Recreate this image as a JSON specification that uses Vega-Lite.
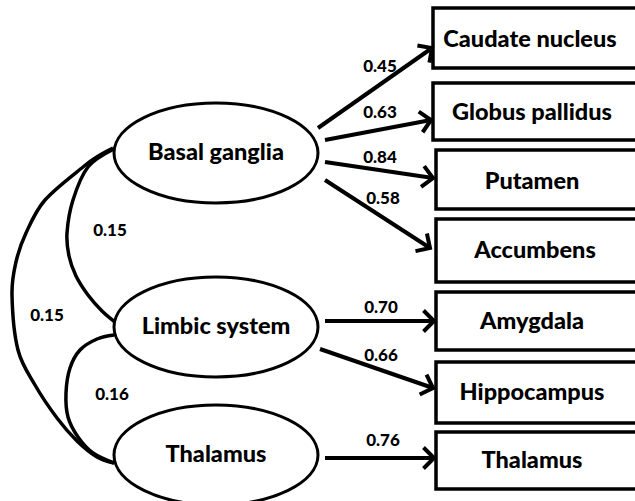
{
  "$schema": "https://vega.github.io/schema/vega-lite/v6.json",
  "width": 635,
  "height": 501,
  "padding": 0,
  "autosize": {"type": "none"},
  "background": "white",
  "config": {"view": {"stroke": null}},
  "datasets": {
    "curves": [
      {"pair": "BG-TH", "i": 1, "x": 113, "y": 148},
      {"pair": "BG-TH", "i": 2, "x": 100, "y": 155},
      {"pair": "BG-TH", "i": 3, "x": 83, "y": 167},
      {"pair": "BG-TH", "i": 4, "x": 45, "y": 200},
      {"pair": "BG-TH", "i": 5, "x": 26, "y": 233},
      {"pair": "BG-TH", "i": 6, "x": 16, "y": 262},
      {"pair": "BG-TH", "i": 7, "x": 12, "y": 295},
      {"pair": "BG-TH", "i": 8, "x": 18, "y": 350},
      {"pair": "BG-TH", "i": 9, "x": 35, "y": 385},
      {"pair": "BG-TH", "i": 10, "x": 57, "y": 418},
      {"pair": "BG-TH", "i": 11, "x": 77, "y": 441},
      {"pair": "BG-TH", "i": 12, "x": 97, "y": 457},
      {"pair": "BG-TH", "i": 13, "x": 114, "y": 463},
      {"pair": "BG-LS", "i": 1, "x": 114, "y": 149},
      {"pair": "BG-LS", "i": 2, "x": 88, "y": 167},
      {"pair": "BG-LS", "i": 3, "x": 73, "y": 200},
      {"pair": "BG-LS", "i": 4, "x": 67, "y": 233},
      {"pair": "BG-LS", "i": 5, "x": 69, "y": 256},
      {"pair": "BG-LS", "i": 6, "x": 76, "y": 276},
      {"pair": "BG-LS", "i": 7, "x": 88, "y": 295},
      {"pair": "BG-LS", "i": 8, "x": 102, "y": 311},
      {"pair": "BG-LS", "i": 9, "x": 115, "y": 322},
      {"pair": "LS-TH", "i": 1, "x": 114, "y": 335},
      {"pair": "LS-TH", "i": 2, "x": 97, "y": 339},
      {"pair": "LS-TH", "i": 3, "x": 80, "y": 350},
      {"pair": "LS-TH", "i": 4, "x": 70, "y": 368},
      {"pair": "LS-TH", "i": 5, "x": 66, "y": 393},
      {"pair": "LS-TH", "i": 6, "x": 68, "y": 417},
      {"pair": "LS-TH", "i": 7, "x": 78, "y": 437},
      {"pair": "LS-TH", "i": 8, "x": 93, "y": 453},
      {"pair": "LS-TH", "i": 9, "x": 114, "y": 463}
    ],
    "arrows": [
      {"coef": "0.45", "x1": 318, "y1": 128, "x2": 432, "y2": 48, "lx": 380, "ly": 67},
      {"coef": "0.63", "x1": 325, "y1": 140, "x2": 431, "y2": 120, "lx": 380, "ly": 113},
      {"coef": "0.84", "x1": 325, "y1": 162, "x2": 433, "y2": 178, "lx": 380, "ly": 158},
      {"coef": "0.58", "x1": 325, "y1": 180, "x2": 430, "y2": 248, "lx": 383, "ly": 199},
      {"coef": "0.70", "x1": 325, "y1": 321, "x2": 434, "y2": 321, "lx": 381, "ly": 308},
      {"coef": "0.66", "x1": 320, "y1": 349, "x2": 433, "y2": 388, "lx": 381, "ly": 356},
      {"coef": "0.76", "x1": 325, "y1": 458, "x2": 434, "y2": 458, "lx": 383, "ly": 441}
    ],
    "boxes": [
      {"name": "Caudate nucleus", "x1": 433, "x2": 645, "y1": 8, "y2": 68, "lx": 530, "ly": 40},
      {"name": "Globus pallidus", "x1": 433, "x2": 645, "y1": 83, "y2": 140, "lx": 532, "ly": 113},
      {"name": "Putamen", "x1": 436, "x2": 645, "y1": 150, "y2": 209, "lx": 532, "ly": 182},
      {"name": "Accumbens", "x1": 436, "x2": 645, "y1": 219, "y2": 282, "lx": 535, "ly": 251},
      {"name": "Amygdala", "x1": 436, "x2": 645, "y1": 292, "y2": 350, "lx": 532, "ly": 322},
      {"name": "Hippocampus", "x1": 436, "x2": 645, "y1": 362, "y2": 423, "lx": 532, "ly": 393},
      {"name": "Thalamus", "x1": 436, "x2": 645, "y1": 432, "y2": 489, "lx": 532, "ly": 461}
    ],
    "latent": [
      {"name": "Basal ganglia", "x": 216, "y": 153},
      {"name": "Limbic system", "x": 216, "y": 327},
      {"name": "Thalamus", "x": 216, "y": 455}
    ],
    "covs": [
      {"coef": "0.15", "x": 110, "y": 231},
      {"coef": "0.15", "x": 47, "y": 316},
      {"coef": "0.16", "x": 112, "y": 395}
    ]
  },
  "layer": [
    {
      "data": {"name": "curves"},
      "mark": {"type": "line", "interpolate": "cardinal", "stroke": "black", "strokeWidth": 3.5, "clip": true},
      "encoding": {
        "x": {"field": "x", "type": "quantitative", "scale": {"domain": [0, 635], "nice": false, "zero": false}, "axis": null},
        "y": {"field": "y", "type": "quantitative", "scale": {"domain": [0, 501], "nice": false, "zero": false, "reverse": true}, "axis": null},
        "detail": {"field": "pair"},
        "order": {"field": "i", "type": "quantitative"}
      }
    },
    {
      "data": {"name": "boxes"},
      "mark": {"type": "rect", "fill": "white", "stroke": "black", "strokeWidth": 3.5, "clip": true},
      "encoding": {
        "x": {"field": "x1", "type": "quantitative"},
        "x2": {"field": "x2"},
        "y": {"field": "y1", "type": "quantitative"},
        "y2": {"field": "y2"}
      }
    },
    {
      "data": {"name": "arrows"},
      "mark": {"type": "rule", "stroke": "black", "strokeWidth": 4},
      "encoding": {
        "x": {"field": "x1", "type": "quantitative"},
        "x2": {"field": "x2"},
        "y": {"field": "y1", "type": "quantitative"},
        "y2": {"field": "y2"}
      }
    },
    {
      "data": {"name": "arrows"},
      "transform": [{"calculate": "atan2(datum.y2 - datum.y1, datum.x2 - datum.x1) * 180 / PI", "as": "angle"}],
      "mark": {"type": "point", "shape": "M -1 -1 L 0 0 L -1 1", "size": 440, "filled": false, "stroke": "black", "strokeWidth": 4, "opacity": 1},
      "encoding": {
        "x": {"field": "x2", "type": "quantitative"},
        "y": {"field": "y2", "type": "quantitative"},
        "angle": {"field": "angle", "type": "quantitative", "scale": null}
      }
    },
    {
      "data": {"name": "latent"},
      "mark": {"type": "point", "shape": "M -1 0 A 1 0.49 0 1 1 1 0 A 1 0.49 0 1 1 -1 0 Z", "size": 41616, "filled": true, "fill": "white", "stroke": "black", "strokeWidth": 3, "opacity": 1, "clip": true},
      "encoding": {
        "x": {"field": "x", "type": "quantitative"},
        "y": {"field": "y", "type": "quantitative"}
      }
    },
    {
      "data": {"name": "latent"},
      "mark": {"type": "text", "font": "Lato", "fontWeight": 900, "fontSize": 23.5, "align": "center", "baseline": "middle", "color": "black"},
      "encoding": {
        "x": {"field": "x", "type": "quantitative"},
        "y": {"field": "y", "type": "quantitative"},
        "text": {"field": "name"}
      }
    },
    {
      "data": {"name": "boxes"},
      "mark": {"type": "text", "font": "Lato", "fontWeight": 900, "fontSize": 23.5, "align": "center", "baseline": "middle", "color": "black"},
      "encoding": {
        "x": {"field": "lx", "type": "quantitative"},
        "y": {"field": "ly", "type": "quantitative"},
        "text": {"field": "name"}
      }
    },
    {
      "data": {"name": "arrows"},
      "mark": {"type": "text", "font": "Lato", "fontWeight": 900, "fontSize": 17, "align": "center", "baseline": "middle", "color": "black"},
      "encoding": {
        "x": {"field": "lx", "type": "quantitative"},
        "y": {"field": "ly", "type": "quantitative"},
        "text": {"field": "coef"}
      }
    },
    {
      "data": {"name": "covs"},
      "mark": {"type": "text", "font": "Lato", "fontWeight": 900, "fontSize": 17, "align": "center", "baseline": "middle", "color": "black"},
      "encoding": {
        "x": {"field": "x", "type": "quantitative"},
        "y": {"field": "y", "type": "quantitative"},
        "text": {"field": "coef"}
      }
    }
  ]
}
